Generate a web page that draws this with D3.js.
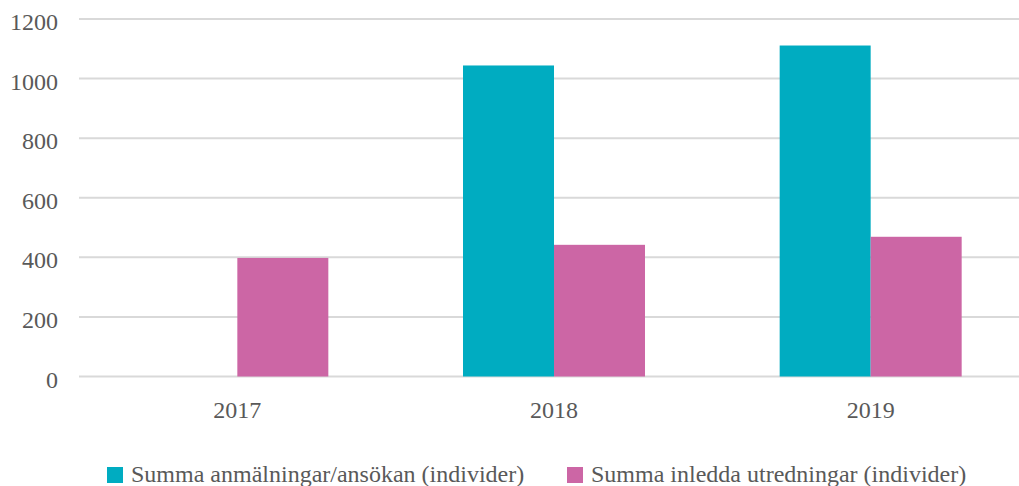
<!DOCTYPE html>
<html><head><meta charset="utf-8">
<script src="https://cdn.jsdelivr.net/npm/d3@7"></script>
<style>html,body{margin:0;padding:0;background:#fff;}</style>
</head><body>
<script>
const categories = ["2017", "2018", "2019"];
const seriesNames = ["Summa anmälningar/ansökan (individer)", "Summa inledda utredningar (individer)"];
const anmalningar = [0, 1044, 1111];
const utredningar = [398, 442, 469];
const yTicks = [0, 200, 400, 600, 800, 1000, 1200];
const colors = ["#00ACC1", "#CC66A5"];

const W = 1019, H = 486;
const svg = d3.select("body").append("svg").attr("width", W).attr("height", H);
const font = "'Liberation Serif', 'Times New Roman', serif";
const fs = 24;

const x = d3.scaleBand().domain(categories).range([79, 1029]).padding(0);
const y = d3.scaleLinear().domain([0, 1200]).range([376.5, 19]);
const barW = 91;

// gridlines
svg.append("g").selectAll("line").data(yTicks).join("line")
  .attr("x1", 79).attr("x2", W)
  .attr("y1", d => y(d)).attr("y2", d => y(d))
  .attr("stroke", "#d9d9d9").attr("stroke-width", 2);

// y axis labels
const yAxis = d3.axisLeft(y).tickValues(yTicks).tickFormat(d3.format("d")).tickSize(0).tickPadding(0);
const gy = svg.append("g").attr("transform", "translate(58,0)").call(yAxis);
gy.select(".domain").remove();
gy.selectAll("text").attr("font-family", font).attr("font-size", fs).attr("fill", "#595959")
  .attr("x", 0).attr("dy", "10.5px");

// bars
const data = categories.map((c, i) => ({c, vals: [anmalningar[i], utredningar[i]]}));
const g = svg.append("g");
data.forEach(d => {
  const cx = x(d.c) + x.bandwidth() / 2;
  d.vals.forEach((v, s) => {
    if (v <= 0) return;
    g.append("rect")
      .attr("x", cx - barW + s * barW).attr("width", barW)
      .attr("y", y(v)).attr("height", y(0) - y(v))
      .attr("fill", colors[s]);
  });
});

// x axis labels
const xAxis = d3.axisBottom(x).tickSize(0).tickPadding(0);
const gx = svg.append("g").attr("transform", "translate(0,418)").call(xAxis);
gx.select(".domain").remove();
gx.selectAll("text").attr("font-family", font).attr("font-size", fs).attr("fill", "#595959")
  .attr("y", 0).attr("dy", 0);

// legend
const legX = [107, 567];
const leg = svg.append("g");
seriesNames.forEach((n, i) => {
  leg.append("rect").attr("x", legX[i]).attr("y", 467).attr("width", 16).attr("height", 16).attr("fill", colors[i]);
  leg.append("text").attr("x", legX[i] + 24).attr("y", 482)
    .attr("font-family", font).attr("font-size", fs).attr("fill", "#595959").text(n);
});
</script>
</body></html>
